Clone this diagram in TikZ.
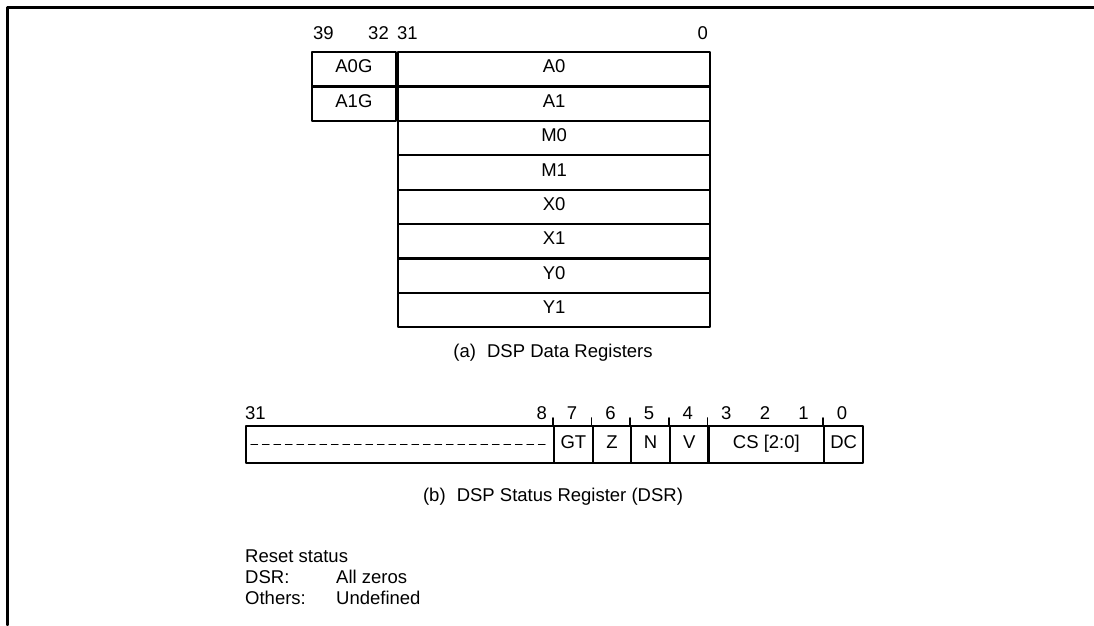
\documentclass[tikz,border=0pt]{standalone}
\usepackage{fontspec}
\setmainfont{Liberation Sans}
\begin{document}
\begin{tikzpicture}[x=1pt,y=-1pt,font=\fontsize{18.5}{22}\selectfont, line join=round, line cap=round, inner sep=0pt,
 cell/.style={draw,line width=2.2pt,anchor=north west,minimum height=34.4pt,text height=0.72em,text depth=0pt},
 bitcell/.style={draw,line width=2.2pt,anchor=north west,minimum height=37pt,minimum width=38.6pt,text height=0.72em,text depth=0pt}]
 \useasboundingbox (0,0) rectangle (1094,625);
 \coordinate (tl) at (7.5,7.5);
 \draw[line width=2.6pt] (1094,7.5)--(tl)--(7.5,625);
 % data registers
 \foreach\r [count=\k from 0] in {A0,A1,M0,M1,X0,X1,Y0,Y1}{\node[cell,minimum width=312pt] (\r) at (397,51+34.4*\k) {\r};}
 \foreach\r in {A0,A1}{\node[cell,minimum width=84pt,anchor=north east] (\r G) at (\r.north west) {\r G};}
 \node[anchor=west] (n39) at (313,33) {39};
 \node[anchor=east] (n32) at (389,33) {32};
 \node[anchor=west] (n31) at (397,33) {31};
 \node[anchor=east] (n0) at (708,33) {0};
 \node (capa) at (553,353) {(a)\hspace{0.6em}DSP Data Registers};
 % status register
 \node[bitcell,minimum width=308pt] (rsv) at (245,425) {};
 \draw[line width=1.2pt,dash pattern=on 6.5pt off 5pt] ([xshift=6pt]rsv.west)--([xshift=-10pt]rsv.east);
 \foreach\t [count=\k from 0] in {GT,Z,N,V}{\node[bitcell] (\t) at (553+38.6*\k,425) {\t};}
 \node[bitcell,minimum width=115.8pt] (CS) at (707.4,425) {CS [2:0]};
 \node[bitcell] (DC) at (823.2,425) {DC};
 \foreach\t in {GT,Z,N,V,CS,DC}{\draw[line width=1.6pt] (\t.north west)--++(0,-7);}
 \node[anchor=west] (d31) at (245,413) {31};
 \node[anchor=east] (d8) at (547,413) {8};
 \foreach\i in {7,...,0}{\node (d\i) at ({571.9+38.6*(7-\i)},413) {\i};}
 \node (capb) at (553,497) {(b)\hspace{0.6em}DSP Status Register (DSR)};
 % reset
 \node[anchor=west] (rs) at (245,556) {Reset status};
 \node[anchor=west] (rdsr) at (245,577) {DSR:};
 \node[anchor=west] (rdsrv) at (336,577) {All zeros};
 \node[anchor=west] (roth) at (245,598) {Others:};
 \node[anchor=west] (rothv) at (336,598) {Undefined};
\end{tikzpicture}
\end{document}
